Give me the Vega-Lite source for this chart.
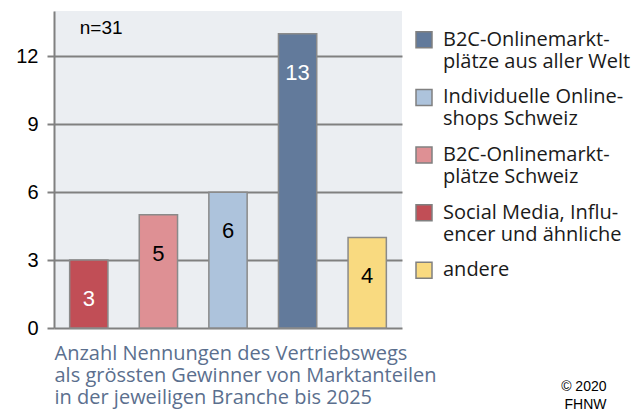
{
  "$schema": "https://vega.github.io/schema/vega-lite/v6.json",
  "padding": {"left": 15, "top": 11, "right": 0, "bottom": 0},
  "background": "white",
  "bounds": "flush",
  "spacing": 22,
  "config": {"view": {"stroke": null}},
  "datasets": {
    "bars": [
      {"category": "Social Media, Influencer und ähnliche", "value": 3, "legendLabel": "Social Media, Influ-\nencer und ähnliche", "legendOrder": 4},
      {"category": "B2C-Onlinemarktplätze Schweiz", "value": 5, "legendLabel": "B2C-Onlinemarkt-\nplätze Schweiz", "legendOrder": 3},
      {"category": "Individuelle Onlineshops Schweiz", "value": 6, "legendLabel": "Individuelle Online-\nshops Schweiz", "legendOrder": 2},
      {"category": "B2C-Onlinemarktplätze aus aller Welt", "value": 13, "legendLabel": "B2C-Onlinemarkt-\nplätze aus aller Welt", "legendOrder": 1},
      {"category": "andere", "value": 4, "legendLabel": "andere", "legendOrder": 5}
    ],
    "note": [{"note": "n=31", "category": "Social Media, Influencer und ähnliche"}]
  },
  "hconcat": [
    {
      "width": 348,
      "height": 317,
      "view": {"fill": "#ebeef2", "stroke": null},
      "layer": [
        {
          "data": {"name": "bars"},
          "mark": {"type": "bar", "stroke": "#8a8a8a", "strokeWidth": 1.5},
          "encoding": {
            "x": {
              "field": "category", "type": "nominal",
              "sort": ["Social Media, Influencer und ähnliche", "B2C-Onlinemarktplätze Schweiz", "Individuelle Onlineshops Schweiz", "B2C-Onlinemarktplätze aus aller Welt", "andere"],
              "scale": {"paddingInner": 0.45, "paddingOuter": 0.225},
              "axis": {
                "labels": false, "ticks": false, "domain": false, "grid": false,
                "title": ["Anzahl Nennungen des Vertriebswegs", "als grössten Gewinner von Marktanteilen", "in der jeweiligen Branche bis 2025"],
                "titleFont": "Open Sans", "titleFontSize": 20, "titleFontWeight": "normal",
                "titleColor": "#5b6f8e", "titleAnchor": "start", "titleAlign": "left",
                "titleBaseline": "top", "titlePadding": 15, "titleLineHeight": 22
              }
            },
            "y": {
              "field": "value", "type": "quantitative",
              "scale": {"domain": [0, 14], "nice": false},
              "axis": {
                "values": [0, 3, 6, 9, 12], "title": null,
                "grid": true, "gridColor": "#808080", "gridWidth": 2,
                "domainColor": "#808080", "domainWidth": 2,
                "tickColor": "#808080", "tickWidth": 2, "tickSize": 7,
                "labelFont": "Liberation Sans", "labelFontSize": 20, "labelColor": "black", "labelPadding": 9
              }
            },
            "color": {
              "field": "category", "type": "nominal",
              "scale": {
                "domain": ["Social Media, Influencer und ähnliche", "B2C-Onlinemarktplätze Schweiz", "Individuelle Onlineshops Schweiz", "B2C-Onlinemarktplätze aus aller Welt", "andere"],
                "range": ["#c14e56", "#de9094", "#adc3dc", "#627a9b", "#f9da80"]
              },
              "legend": null
            }
          }
        },
        {
          "data": {"name": "bars"},
          "mark": {"type": "text", "baseline": "middle", "dy": 39, "fontSize": 22, "font": "Liberation Sans"},
          "encoding": {
            "x": {"field": "category", "type": "nominal", "sort": ["Social Media, Influencer und ähnliche", "B2C-Onlinemarktplätze Schweiz", "Individuelle Onlineshops Schweiz", "B2C-Onlinemarktplätze aus aller Welt", "andere"]},
            "y": {"field": "value", "type": "quantitative"},
            "text": {"field": "value"},
            "color": {
              "condition": {"test": "datum.value == 3 || datum.value == 13", "value": "white"},
              "value": "black"
            }
          }
        },
        {
          "data": {"name": "note"},
          "mark": {"type": "text", "align": "left", "baseline": "middle", "dx": -9, "fontSize": 19, "font": "Liberation Sans", "color": "black"},
          "encoding": {
            "x": {"field": "category", "type": "nominal", "sort": ["Social Media, Influencer und ähnliche", "B2C-Onlinemarktplätze Schweiz", "Individuelle Onlineshops Schweiz", "B2C-Onlinemarktplätze aus aller Welt", "andere"]},
            "y": {"datum": 13.25, "type": "quantitative"},
            "text": {"field": "note"}
          }
        }
      ]
    },
    {
      "width": 182,
      "height": 317,
      "data": {"name": "bars"},
      "layer": [
        {
          "mark": {"type": "point", "shape": "square", "size": 256, "filled": true, "opacity": 1, "stroke": "#808080", "strokeWidth": 1.5},
          "encoding": {
            "x": {
              "datum": 0, "type": "quantitative",
              "scale": {"domain": [0, 1]},
              "axis": {
                "labels": false, "ticks": false, "domain": false, "grid": false,
                "title": ["© 2020", "FHNW"],
                "titleFont": "Liberation Sans", "titleFontSize": 14, "titleFontWeight": "normal",
                "titleColor": "black", "titleAnchor": "end", "titleAlign": "right",
                "titleBaseline": "top", "titlePadding": 51, "titleLineHeight": 18
              }
            },
            "y": {"field": "legendOrder", "type": "quantitative", "scale": {"domain": [0.5, 5.97], "reverse": true}, "axis": null},
            "color": {
              "field": "category", "type": "nominal",
              "scale": {
                "domain": ["Social Media, Influencer und ähnliche", "B2C-Onlinemarktplätze Schweiz", "Individuelle Onlineshops Schweiz", "B2C-Onlinemarktplätze aus aller Welt", "andere"],
                "range": ["#c14e56", "#de9094", "#adc3dc", "#627a9b", "#f9da80"]
              },
              "legend": null
            }
          }
        },
        {
          "mark": {"type": "text", "align": "left", "baseline": "top", "dx": 19, "dy": -10, "lineBreak": "\n", "lineHeight": 22, "font": "Open Sans", "fontSize": 20, "color": "#1a1a1a"},
          "encoding": {
            "x": {"datum": 0, "type": "quantitative"},
            "y": {"field": "legendOrder", "type": "quantitative"},
            "text": {"field": "legendLabel"}
          }
        }
      ]
    }
  ]
}
